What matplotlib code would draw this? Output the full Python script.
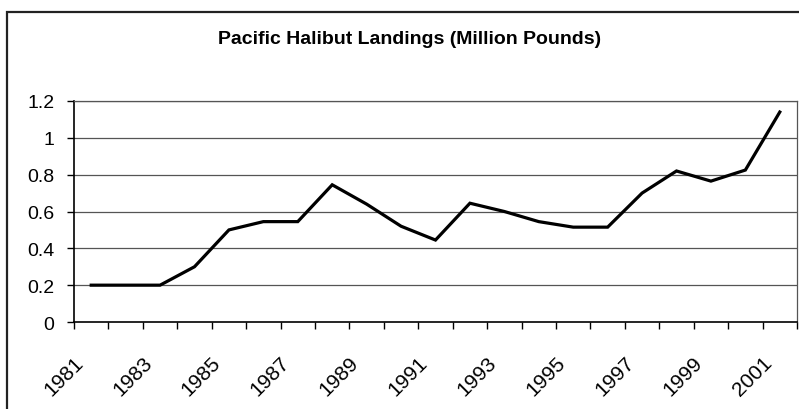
import matplotlib
matplotlib.use("Agg")
import matplotlib.pyplot as plt
from matplotlib.patches import Rectangle
from matplotlib.transforms import ScaledTranslation

# Data
years = list(range(1981, 2002))
landings = [0.20, 0.20, 0.20, 0.30, 0.50, 0.545, 0.545, 0.745, 0.64, 0.52,
            0.445, 0.645, 0.60, 0.545, 0.515, 0.515, 0.70, 0.82, 0.765, 0.825, 1.14]
y_ticks = [0, 0.2, 0.4, 0.6, 0.8, 1, 1.2]
y_labels = ["0", "0.2", "0.4", "0.6", "0.8", "1", "1.2"]
title = "Pacific Halibut Landings (Million Pounds)"

plt.rcParams['font.family'] = ['Liberation Sans', 'DejaVu Sans']

W, H = 799, 410
fig = plt.figure(figsize=(W / 100, H / 100), dpi=100)

# outer chart border (runs off the right and bottom edges)
fig.patches.append(Rectangle((7 / W, -0.1), 1.2, 1 - 13 / H + 0.1,
                             transform=fig.transFigure, fill=False,
                             edgecolor='#222222', linewidth=1.6))

ax = fig.add_axes([74 / W, 1 - 323 / H, (797 - 74) / W, (323 - 102) / H])

x = list(range(len(years)))
ax.plot(x, landings, color='black', linewidth=2.3, solid_joinstyle='miter', zorder=3)

ax.set_xlim(-0.5, len(years) - 0.5)
ax.set_ylim(0, 1.2)

# horizontal gridlines
for v in y_ticks[1:]:
    ax.axhline(v, color='#555555', linewidth=0.9, zorder=1)

ax.set_yticks(y_ticks)
ax.set_yticklabels(y_labels, fontsize=14)
ax.tick_params(axis='y', direction='out', length=5, width=1, pad=9)

# category boundaries as major ticks, labels on every other category
ax.set_xticks([i - 0.5 for i in range(len(years) + 1)])
ax.set_xticklabels([])
ax.set_xticks(x, minor=True)
ax.set_xticklabels([str(y) if i % 2 == 0 else "" for i, y in enumerate(years)],
                   minor=True, fontsize=15, rotation=45, ha='right', va='center',
                   rotation_mode='anchor')
ax.tick_params(axis='x', which='major', direction='out', length=5, width=1)
ax.tick_params(axis='x', which='minor', length=0, pad=27)
shift = ScaledTranslation(-8 / 72, 0, fig.dpi_scale_trans)
for lbl in ax.get_xticklabels(minor=True):
    lbl.set_transform(lbl.get_transform() + shift)

for s in ['left', 'bottom']:
    ax.spines[s].set_color('black')
    ax.spines[s].set_linewidth(1.2)
for s in ['top', 'right']:
    ax.spines[s].set_color('#555555')
    ax.spines[s].set_linewidth(0.9)

fig.text(410 / W, 1 - 40 / H, title, ha='center', va='center',
         fontsize=14, fontweight='bold')

fig.savefig("out.png", dpi=100)
